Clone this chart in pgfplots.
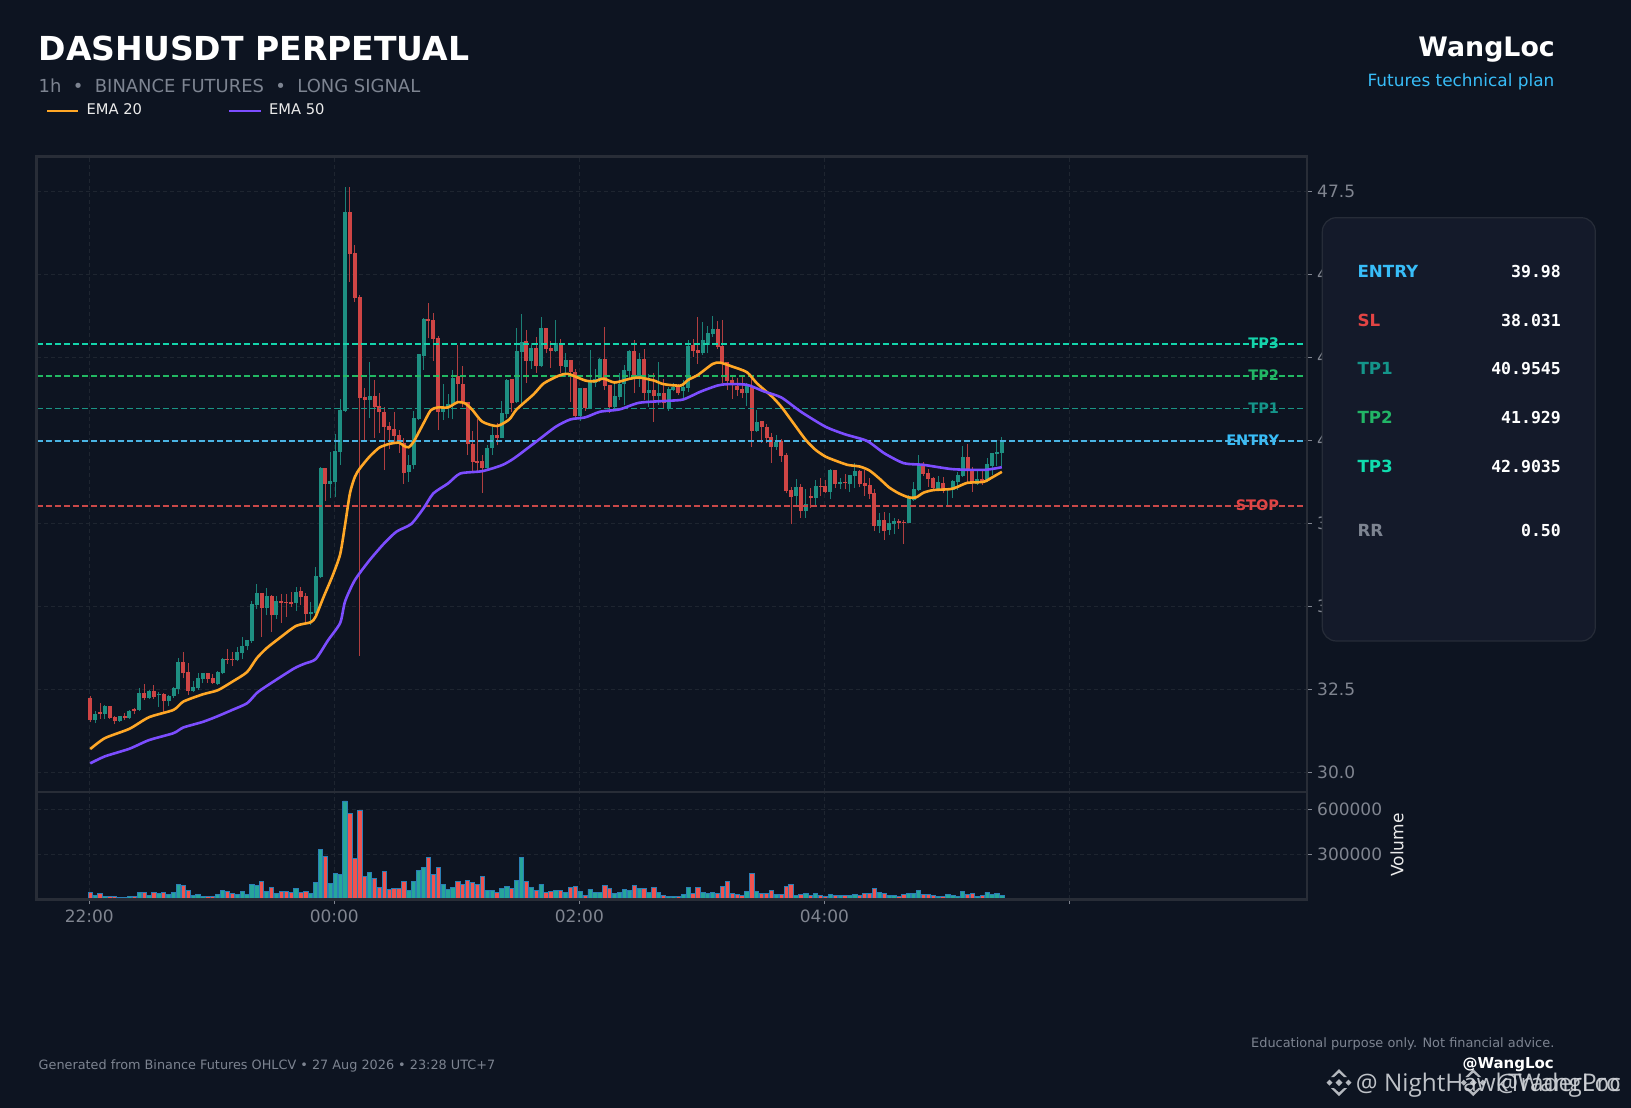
\documentclass[border=0pt]{standalone}
\usepackage{pgfplots}
\usepackage{pgfplotstable}
\usepackage{fontspec}
\pgfplotsset{compat=1.18}
\setmainfont{DejaVu Sans}
\newfontfamily\monofam{DejaVu Sans Mono}
\newfontfamily\wmfam{Open Sans}
\newcommand\fs[1]{\fontsize{#1}{#1}\selectfont}
\definecolor{bg}{HTML}{0D1421}
\definecolor{spine}{HTML}{282D37}
\definecolor{gridc}{HTML}{1E2530}
\definecolor{tickc}{HTML}{808590}
\definecolor{upc}{HTML}{1E8F82}
\definecolor{dnc}{HTML}{CE4545}
\definecolor{upw}{HTML}{1B8076}
\definecolor{dnw}{HTML}{B03E40}
\definecolor{vup}{HTML}{26A69A}
\definecolor{vdn}{HTML}{EF5350}
\definecolor{vedge}{HTML}{2A7FB5}
\definecolor{ema20}{HTML}{FFA726}
\definecolor{ema50}{HTML}{7C4DFF}
\definecolor{lentry}{HTML}{4AB4E4}
\definecolor{lstop}{HTML}{C84848}
\definecolor{ltp1}{HTML}{1A9485}
\definecolor{ltp2}{HTML}{22B863}
\definecolor{ltp3}{HTML}{14D4AB}
\definecolor{centry}{HTML}{38BDF8}
\definecolor{cstop}{HTML}{E34444}
\definecolor{ctp1}{HTML}{14958A}
\definecolor{ctp2}{HTML}{22B566}
\definecolor{ctp3}{HTML}{10DCAE}
\definecolor{cgrey}{HTML}{7D8491}
\definecolor{boxf}{HTML}{141A2A}
\definecolor{boxe}{HTML}{262C38}
\definecolor{wm}{HTML}{D2D5DA}
% i open high low close volume
\pgfplotstableread{
i o h l c v
1 31.59 31.85 31.47 31.77 26700
3 31.75 32.02 31.62 31.99 20000
6 31.55 31.71 31.53 31.69 13300
8 31.63 31.89 31.60 31.86 20000
10 31.87 32.53 31.84 32.39 46700
12 32.23 32.48 32.20 32.45 26700
14 32.32 32.41 31.97 32.36 40000
16 32.14 32.32 31.99 32.29 33300
17 32.29 32.58 32.24 32.54 46700
18 32.50 33.43 32.35 33.32 100000
21 32.46 32.74 32.43 32.57 26700
22 32.53 32.98 32.48 32.84 33300
23 32.81 33.00 32.68 33.00 20000
26 32.67 33.05 32.63 33.02 33300
27 32.99 33.45 32.95 33.41 60000
30 33.38 33.76 33.34 33.62 33300
31 33.58 34.09 33.42 33.80 53300
32 33.80 33.98 33.67 33.98 33300
33 33.95 35.17 33.90 35.07 100000
34 35.04 35.66 34.91 35.40 93300
36 34.96 35.56 34.73 35.31 53300
38 34.73 35.31 34.63 35.15 40000
42 35.11 35.59 34.86 35.43 73300
45 34.77 35.12 34.43 34.82 40000
46 34.79 36.19 34.74 35.91 113300
47 35.87 39.20 35.84 39.18 333300
49 38.69 39.66 38.25 38.77 106700
50 38.75 40.18 38.30 39.68 173300
51 39.65 41.23 39.26 40.91 166600
52 40.89 47.64 40.86 46.87 655500
57 41.21 42.35 40.68 41.33 180000
65 39.04 39.56 38.75 39.27 60000
66 39.25 40.88 39.15 40.66 120000
67 40.64 42.60 40.61 42.60 193300
68 42.55 43.69 42.12 43.65 213300
72 40.86 41.71 40.61 40.99 100000
73 40.99 41.39 40.66 41.08 66700
74 41.06 42.12 40.63 41.89 80000
81 39.17 39.86 39.15 39.76 60000
82 39.76 40.39 39.56 40.15 60000
84 40.08 41.19 40.06 40.81 73300
85 40.78 41.85 40.66 41.83 86700
87 41.14 43.37 41.11 42.69 126700
88 42.67 43.80 41.13 42.95 280000
90 42.39 42.92 42.16 42.79 80000
92 42.25 43.70 42.20 43.38 100000
95 42.70 43.62 42.67 42.92 60000
97 42.20 42.64 41.90 42.42 46700
100 40.74 41.56 40.59 41.56 53300
102 40.97 42.72 40.95 41.76 66700
103 41.72 42.14 41.61 41.84 46700
104 41.84 42.47 41.77 42.45 46700
107 41.01 41.72 40.91 41.33 40000
108 41.31 42.02 41.21 41.69 46700
109 41.69 42.27 41.06 42.12 66700
110 42.10 42.72 41.82 42.69 60000
112 41.92 42.62 41.61 42.45 73300
114 41.43 42.00 41.01 41.52 46700
116 41.33 42.37 41.06 41.43 46700
118 40.96 41.62 40.89 41.55 20000
119 41.50 41.72 41.47 41.62 20000
121 41.47 41.82 41.26 41.62 33300
122 41.59 43.02 41.45 42.85 80000
125 42.62 43.57 42.57 43.02 46700
126 42.87 43.44 42.62 43.22 40000
127 43.20 43.75 43.12 43.35 46700
134 41.43 41.72 41.04 41.67 53300
136 40.28 40.91 40.26 40.54 53300
140 39.81 40.16 39.71 39.96 33300
144 38.32 38.82 38.05 38.59 26700
146 37.87 38.52 37.67 38.07 40000
148 38.27 38.80 38.05 38.62 40000
151 38.45 39.13 38.22 39.11 33300
153 38.68 38.85 38.53 38.74 26700
155 38.68 38.95 38.45 38.94 26700
156 38.92 39.31 38.57 39.07 33300
161 37.42 37.80 37.20 37.60 46700
163 37.30 37.80 37.15 37.51 26700
164 37.48 37.65 37.17 37.58 26700
167 37.52 38.35 37.50 38.25 40000
168 38.20 38.75 38.18 38.52 40000
169 38.50 39.55 38.47 39.26 60000
173 38.53 38.92 38.50 38.74 20000
175 38.52 38.55 38.05 38.55 33300
176 38.50 38.80 38.25 38.78 26700
177 38.73 39.03 38.50 38.95 20000
178 38.93 39.83 38.90 39.49 53300
181 38.68 39.06 38.65 38.82 20000
183 38.80 39.46 38.75 39.29 46700
184 39.24 39.62 38.95 39.62 33300
185 39.59 39.96 39.24 39.64 40000
186 39.63 40.09 39.23 39.98 26700
}\upT
\pgfplotstableread{
i o h l c v
0 32.23 32.30 31.51 31.57 46700
2 31.81 32.10 31.62 31.76 40000
4 31.99 32.00 31.62 31.64 17800
5 31.66 31.69 31.44 31.54 20000
7 31.69 31.80 31.59 31.64 13300
9 31.90 31.95 31.76 31.84 20000
11 32.39 32.65 32.18 32.23 46700
13 32.45 32.62 32.21 32.28 46700
15 32.35 32.40 31.82 32.15 46700
19 33.32 33.61 32.83 32.98 93300
20 33.02 33.28 32.34 32.46 60000
24 33.00 33.00 32.70 32.81 17800
25 32.84 32.95 32.66 32.69 20000
28 33.41 33.70 33.27 33.38 53300
29 33.41 33.62 33.20 33.38 40000
35 35.40 35.40 34.08 34.95 120000
37 35.31 35.33 34.23 34.73 80000
39 35.15 35.37 34.50 35.11 53300
40 35.12 35.36 34.68 35.10 53300
41 35.13 35.42 34.99 35.07 46700
43 35.46 35.57 35.04 35.29 46700
44 35.31 35.41 34.51 34.77 53300
48 39.18 39.18 38.18 38.69 286600
53 46.87 47.64 44.78 45.62 573300
54 45.63 45.88 44.17 44.29 273300
55 44.31 44.37 33.51 41.28 593300
56 41.30 41.59 39.99 41.21 153300
58 41.33 41.81 40.06 41.01 140000
59 41.03 41.41 40.21 40.84 80000
60 40.86 40.99 39.10 40.41 186600
61 40.44 40.54 39.73 40.31 66700
62 40.34 40.86 39.96 40.14 73300
63 40.16 40.31 39.61 39.96 73300
64 39.91 40.06 38.69 39.02 120000
69 43.65 44.15 43.07 43.59 280000
70 43.62 43.82 42.40 43.05 166600
71 43.07 43.15 40.31 40.86 213300
75 41.94 42.87 41.11 41.69 120000
76 41.71 42.24 40.99 41.13 100000
77 41.16 41.16 39.56 39.88 126700
78 39.89 40.28 39.07 39.35 113300
79 39.37 40.63 39.07 39.33 100000
80 39.37 39.56 38.42 39.17 153300
83 40.15 40.51 39.85 40.08 46700
86 41.85 41.85 40.86 41.13 73300
89 42.99 43.32 41.73 42.39 120000
91 42.79 43.12 42.04 42.25 60000
93 43.38 43.38 42.62 42.75 46700
94 42.79 43.00 42.19 42.70 53300
96 42.87 43.05 42.04 42.25 60000
98 42.42 42.42 41.16 42.05 80000
99 42.05 42.14 40.66 40.74 86700
101 41.56 41.56 40.89 40.97 26700
105 42.45 43.40 41.51 41.63 93300
106 41.67 41.67 40.83 40.99 73300
111 42.69 43.02 41.41 41.92 93300
113 42.45 42.74 41.21 41.43 73300
115 41.51 42.02 40.56 41.33 80000
117 41.43 41.84 40.96 41.11 26700
120 41.62 41.70 41.36 41.41 20000
123 42.87 43.04 42.52 42.69 40000
124 42.72 43.72 42.30 42.62 80000
128 43.35 43.60 42.74 42.82 40000
129 42.85 43.62 41.72 42.37 86700
130 42.35 42.37 41.51 41.79 120000
131 41.82 41.97 41.24 41.72 40000
132 41.64 41.87 41.33 41.51 33300
133 41.55 41.90 41.26 41.41 26700
135 41.64 41.97 39.81 40.28 173300
137 40.58 40.58 39.93 40.41 40000
138 40.40 40.49 39.93 40.07 40000
139 40.09 40.21 39.33 39.81 60000
141 39.99 40.04 39.36 39.53 33300
142 39.56 39.61 38.40 38.47 86700
143 38.50 38.60 37.47 38.29 100000
145 38.60 38.68 37.67 37.87 33300
147 38.32 38.55 37.95 38.27 26700
149 38.63 38.85 38.32 38.60 26700
150 38.62 38.80 38.40 38.44 20000
152 39.11 39.11 38.57 38.67 26700
154 38.74 38.97 38.52 38.70 26700
157 39.07 39.11 38.58 38.68 26700
158 38.71 39.11 38.33 38.62 40000
159 38.65 38.85 38.23 38.38 40000
160 38.40 38.52 37.28 37.42 73300
162 37.60 37.83 37.00 37.28 40000
165 37.58 37.62 37.33 37.52 20000
166 37.55 37.60 36.87 37.53 33300
170 39.26 39.36 38.92 38.99 33300
171 39.01 39.14 38.60 38.83 33300
172 38.85 38.90 38.50 38.55 26700
174 38.71 38.88 38.40 38.53 20000
179 39.49 39.88 38.70 39.11 33300
180 39.11 39.21 38.45 38.75 40000
182 38.82 39.11 38.65 38.72 26700
}\dnT
\pgfplotstableread{
i v
0 30.70
3 31.03
8 31.31
12 31.66
17 31.88
19 32.13
23 32.35
26 32.47
29 32.73
32 33.02
34 33.44
36 33.74
38.5 34.03
42 34.41
45 34.52
46 34.69
47.5 35.24
49.5 35.94
51 36.57
52 37.46
53 38.41
54 38.90
55 39.15
57 39.51
59 39.78
61 39.89
63 39.93
64 39.83
65 39.79
66 39.96
68 40.51
69.5 40.91
71 40.99
73 40.99
75 41.15
76.5 41.11
78 40.91
80 40.56
83 40.43
85.5 40.63
87 40.93
90.5 41.39
92.5 41.71
95.5 41.94
97.5 42.00
101 41.80
103 41.78
104.7 41.86
107 41.74
110 41.85
112 41.89
115 41.80
117 41.69
120.5 41.65
122 41.82
124 41.97
127 42.30
128.5 42.34
131 42.22
134 42.05
136 41.72
139 41.33
141 41.01
143.5 40.51
146 40.01
148 39.71
150 39.51
152 39.39
154.5 39.26
157 39.21
159 39.09
161 38.85
163 38.58
165 38.40
167 38.28
168.5 38.28
170 38.42
172 38.50
175.5 38.53
177 38.60
179 38.72
182.3 38.75
184 38.88
186 39.05
}\emaA
\pgfplotstableread{
i v
0 30.27
3 30.48
8 30.71
12 30.97
17 31.18
19 31.35
23 31.52
26 31.69
29 31.88
32 32.08
34 32.39
36 32.60
41.5 33.12
43.7 33.27
46 33.41
48.5 33.97
51 34.50
52 35.15
54 35.79
57 36.39
60 36.90
62.5 37.25
65.5 37.48
68 37.95
70 38.40
73 38.70
75.5 39.00
80 39.07
84 39.25
86.5 39.46
91 39.96
95 40.41
98 40.63
101 40.69
104 40.86
108 40.93
112 41.13
118 41.19
121 41.23
124.6 41.47
128 41.65
130 41.69
134 41.67
137.5 41.47
141 41.29
145 40.86
150 40.41
154 40.18
158.5 39.98
162 39.61
166 39.31
170 39.26
176 39.13
182.5 39.11
186 39.19
}\emaB
\pgfplotsset{
  wick/.style={draw=none,mark=none,forget plot,error bars/.cd,y dir=plus,y explicit,error mark=none,error bar style={color=#1,line width=1pt}},
  cbody/.style={draw=none,mark=none,forget plot,error bars/.cd,y dir=plus,y explicit,error mark=none,error bar style={color=#1,line width=4pt}},
  panel/.style={scale only axis,width=1269.4pt,xmin=-10.6,xmax=248.4,
    xtick={0,50,100,150,200},tick align=outside,major tick length=5pt,
    ytick pos=right,yticklabel pos=right,
    grid=major,grid style={color=gridc,line width=0.9pt,dash pattern=on 4pt off 3pt},
    axis line style={color=spine,line width=1.4pt},
    tick style={color=tickc,line width=0.9pt},
    tick label style={text=tickc,font=\fs{17}},
    yticklabel style={xshift=2pt},
    xticklabel style={yshift=-2pt},
    axis on top=false},
  lvl/.style={color=#1,line width=1.7pt,dash pattern=on 6pt off 3pt,forget plot},
  ema/.style={color=#1,line width=2.6pt,line join=round,smooth,tension=0.4,forget plot},
}
\begin{document}
\begin{tikzpicture}[x=1pt,y=1pt]
\path[use as bounding box,fill=bg] (0,0) rectangle (1631,1108);
% price panel
\begin{axis}[panel,at={(37.3pt,316.4pt)},anchor=south west,height=635.6pt,
  ymin=29.419,ymax=48.563,ytick={30,32.5,35,37.5,40,42.5,45,47.5},
  yticklabel style={/pgf/number format/.cd,fixed,fixed zerofill,precision=1,assume math mode=true},
  xticklabels={},x tick style={draw=none}]
\addplot[wick=upw] table[x expr=\thisrow{i}+0.2,y=l,y error plus expr=\thisrow{h}-\thisrow{l}] {\upT};
\addplot[wick=dnw] table[x expr=\thisrow{i}+0.2,y=l,y error plus expr=\thisrow{h}-\thisrow{l}] {\dnT};
\addplot[cbody=upc] table[x expr=\thisrow{i}+0.2,y=o,y error plus expr=\thisrow{c}-\thisrow{o}] {\upT};
\addplot[cbody=dnc] table[x expr=\thisrow{i}+0.2,y=c,y error plus expr=\thisrow{o}-\thisrow{c}] {\dnT};
\node[anchor=mid east,inner sep=0,text=ltp3,font=\fs{14.5}\bfseries] at (axis cs:242.8,42.85) {TP3};
\node[anchor=mid east,inner sep=0,text=ctp2,font=\fs{14.5}\bfseries] at (axis cs:242.8,41.88) {TP2};
\node[anchor=mid east,inner sep=0,text=ctp1,font=\fs{14.5}\bfseries] at (axis cs:242.8,40.90) {TP1};
\node[anchor=mid east,inner sep=0,text=centry,font=\fs{14.5}\bfseries] at (axis cs:242.8,39.93) {ENTRY};
\node[anchor=mid east,inner sep=0,text=cstop,font=\fs{14.5}\bfseries] at (axis cs:242.8,37.98) {STOP};
\addplot[lvl=ltp3] coordinates {(-10.6,42.9035)(248.4,42.9035)};
\addplot[lvl=ltp2] coordinates {(-10.6,41.929)(248.4,41.929)};
\addplot[lvl=ltp1] coordinates {(-10.6,40.9545)(248.4,40.9545)};
\addplot[lvl=lentry] coordinates {(-10.6,39.98)(248.4,39.98)};
\addplot[lvl=lstop] coordinates {(-10.6,38.031)(248.4,38.031)};
\addplot[ema=ema20] table[x expr=\thisrow{i}+0.2,y=v] {\emaA};
\addplot[ema=ema50] table[x expr=\thisrow{i}+0.2,y=v] {\emaB};
\end{axis}
% volume panel
\begin{axis}[panel,at={(37.3pt,208.7pt)},anchor=south west,height=107.3pt,
  ymin=0,ymax=715400,ytick={300000,600000},yticklabels={300000,600000},
  xtick pos=bottom,xticklabels={22:00,00:00,02:00,04:00,},
  scaled y ticks=false,
  yticklabel style={/pgf/number format/assume math mode=true}]
\addplot[ybar,bar width=0.88,bar shift=0pt,fill=vup,draw=vedge,line width=0.9pt,forget plot] table[x expr=\thisrow{i}+0.2,y=v] {\upT};
\addplot[ybar,bar width=0.88,bar shift=0pt,fill=vdn,draw=vedge,line width=0.9pt,forget plot] table[x expr=\thisrow{i}+0.2,y=v] {\dnT};
\end{axis}
\draw[spine,line width=2.4pt] (36.6,208.3) rectangle (1306.7,951.5);
% volume label
\node[rotate=90,anchor=center,inner sep=0,text=white!92!black,font=\fs{17}] at (1397,263) {Volume};
% header
\node[anchor=base west,inner sep=0,text=white,font=\fs{33.05}\bfseries] at (38.5,1047.3) {DASHUSDT PERPETUAL};
\node[anchor=base west,inner sep=0,text=cgrey,font=\fs{17.95}] at (38.5,1015.3) {1h\ \ •\ \ BINANCE FUTURES\ \ •\ \ LONG SIGNAL};
\draw[ema20,line width=2.6pt] (47,997) -- (78,997);
\draw[ema50,line width=2.6pt] (229,997) -- (261,997);
\node[anchor=base west,inner sep=0,text=white!92!black,font=\fs{14.7}] at (86.5,993) {EMA 20};
\node[anchor=base west,inner sep=0,text=white!92!black,font=\fs{14.7}] at (269,993) {EMA 50};
\node[anchor=base east,inner sep=0,text=white,font=\fs{26.8}\bfseries] at (1555,1051.5) {WangLoc};
\node[anchor=base east,inner sep=0,text=centry,font=\fs{16.9}] at (1554.5,1021.5) {Futures technical plan};
% info panel
\draw[rounded corners=14pt,fill=boxf,draw=boxe,line width=1.2pt] (1322.3,467) rectangle (1595.3,890.3);
\foreach \yy/\cc/\ll/\vv in {830/centry/ENTRY/39.98,781/cstop/SL/38.031,733/ctp1/TP1/40.9545,684/ctp2/TP2/41.929,635/ctp3/TP3/42.9035,571/cgrey/RR/0.50}{
  \node[anchor=base west,inner sep=0,text=\cc,font=\fs{16.7}\bfseries] at (1357.3,\yy) {\ll};
  \node[anchor=base east,inner sep=0,text=white,font=\fs{16.5}\monofam\bfseries] at (1561,\yy) {\vv};
}
% footer
\node[anchor=base west,inner sep=0,text=cgrey,font=\fs{12.82}] at (38.5,38) {Generated from Binance Futures OHLCV • 27 Aug 2026 • 23:28 UTC+7};
\node[anchor=base east,inner sep=0,text=cgrey,font=\fs{12.9}] at (1554.5,60) {Educational purpose only. Not financial advice.};
\node[anchor=base east,inner sep=0,text=white,font=\fs{15}\bfseries] at (1554,39) {@WangLoc};
% watermarks
\foreach \cx in {1339,1473.3}{
  \begin{scope}[shift={(\cx,25.4)},fill=wm,fill opacity=.85]
    \fill (0,-3.5)--(3.5,0)--(0,3.5)--(-3.5,0)--cycle;
    \fill (-9.5,-3)--(-6.5,0)--(-9.5,3)--(-12.5,0)--cycle;
    \fill (9.5,-3)--(12.5,0)--(9.5,3)--(6.5,0)--cycle;
    \fill (0,13.5)--(8,5.5)--(5,5.5)--(0,10)--(-5,5.5)--(-8,5.5)--cycle;
    \fill (0,-13.5)--(8,-5.5)--(5,-5.5)--(0,-10)--(-5,-5.5)--(-8,-5.5)--cycle;
  \end{scope}
}
\node[anchor=base east,inner sep=0,text=wm,text opacity=.9,font=\fs{24.3}\wmfam] at (1621,16.5) {@ NightHawkTraderPro};
\node[anchor=base east,inner sep=0,text=wm,text opacity=.9,font=\fs{24.3}\wmfam] at (1621,16.5) {@WangLoc};
\end{tikzpicture}
\end{document}
